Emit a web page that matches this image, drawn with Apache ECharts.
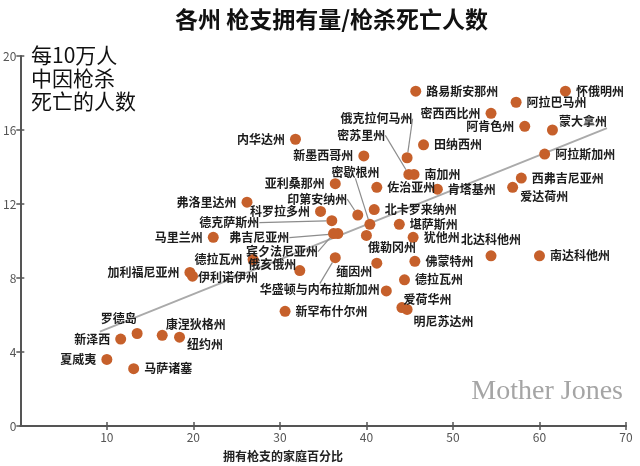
<!DOCTYPE html>
<html><head><meta charset="utf-8">
<script src="https://cdn.jsdelivr.net/npm/echarts@6/dist/echarts.min.js"></script>
<style>html,body{margin:0;padding:0;background:#fff}#c{width:640px;height:466px}</style>
</head><body><div id="c"></div>
<script>
// ---- data ----
const codes = ['WY','LA','AL','MS','AR','MT','AK','TN','OK','MO','SC','KY','WV','ID','GA','NC','MI','NM','NV','AZ','FL','IN','CO','TX','VA','PA','MD','CA','IL','DE','OH','WA','NE','ME','OR','KS','UT','VT','WI','IA','MN','NH','ND','SD','RI','NJ','CT','NY','HI','MA'];
const states = ['怀俄明州','路易斯安那州','阿拉巴马州','密西西比州','阿肯色州','蒙大拿州','阿拉斯加州','田纳西州','俄克拉何马州','密苏里州','南加州','肯塔基州','西弗吉尼亚州','爱达荷州','佐治亚州','北卡罗来纳州','密歇根州','新墨西哥州','内华达州','亚利桑那州','弗洛里达州','印第安纳州','科罗拉多州','德克萨斯州','弗吉尼亚州','宾夕法尼亚州','马里兰州','加利福尼亚州','伊利诺伊州','德拉瓦州','俄亥俄州','华盛顿与内布拉斯加州','内布拉斯加州','缅因州','俄勒冈州','堪萨斯州','犹他州','佛蒙特州','德拉瓦州','爱荷华州','明尼苏达州','新罕布什尔州','北达科他州','南达科他州','罗德岛','新泽西','康涅狄格州','纽约州','夏威夷','马萨诸塞'];
const gunOwnership = [63.0,45.7,57.3,54.4,58.3,61.5,60.6,46.6,44.7,44.9,45.5,48.2,57.9,56.9,41.2,40.9,40.4,39.7,31.8,36.4,26.2,39.0,34.7,36.0,36.7,36.2,22.3,19.6,19.9,26.9,32.3,36.4,42.3,41.2,40.0,43.8,45.4,45.6,44.4,44.1,44.7,30.6,54.4,60.0,13.5,11.6,16.4,18.4,10.0,13.1];
const gunDeaths = [18.1,18.1,17.5,16.9,16.2,16.0,14.7,15.2,14.5,13.6,13.6,12.8,13.4,12.9,12.9,11.7,10.9,14.6,15.5,13.1,12.1,11.4,11.6,11.1,10.4,10.4,10.2,8.3,8.1,9.0,8.4,9.1,7.3,8.8,10.3,10.9,10.2,8.9,7.9,6.4,6.3,6.2,9.2,9.2,5.0,4.7,4.9,4.8,3.6,3.1];
const trendX = [9.2, 67.8];
const trendY = [5.1, 16.1];
const xTickValues = [0,10,20,30,40,50,60,70];
const yTickValues = [0,4,8,12,16,20];

// ---- label placement (style only) ----
const layout = {
  MS:{pos:'left'}, AR:{pos:'left'}, MT:{dx:-4,dy:-9},
  OK:{pos:'left',dx:16,dy:-39,line:true},
  MO:{pos:'left',dx:-13,dy:-39,line:true},
  ID:{dx:-3,dy:9},
  MI:{pos:'left',dx:20,dy:-52,line:true},
  NM:{pos:'left'}, NV:{pos:'left'}, AZ:{pos:'left'}, FL:{pos:'left'},
  IN:{pos:'left',dx:0,dy:-16,line:true},
  CO:{pos:'left'},
  TX:{pos:'left',dx:-62,dy:2,line:true},
  VA:{pos:'left',dx:-38,dy:4,line:true},
  PA:{pos:'left',dx:-5,dy:18,line:true},
  MD:{pos:'left'}, CA:{pos:'left'},
  IL:{dx:-5,dy:1},
  DE:{pos:'left'},
  OH:{pos:'left',dx:7,dy:-6},
  WA:{pos:'left',dx:55,dy:32,line:true},
  NE:{show:false},
  ME:{pos:'left',dx:6,dy:8},
  OR:{dx:-9,dy:12},
  IA:{dx:-9,dy:-8},
  MN:{dx:-4,dy:12},
  ND:{pos:'top'},
  RI:{pos:'left',dx:10,dy:-15},
  NJ:{pos:'left'},
  CT:{dx:-7,dy:-11},
  NY:{dx:-3,dy:7},
  HI:{pos:'left'}
};

const FONT = '"Noto Sans CJK SC","Noto Sans",sans-serif';
const scatterData = states.map((s, i) => {
  const L = layout[codes[i]] || {};
  return {
    name: s,
    value: [gunOwnership[i], gunDeaths[i]],
    label: { show: L.show !== false, position: L.pos || 'right' },
    labelLine: { show: !!L.line }
  };
});

const chart = echarts.init(document.getElementById('c'), null, {renderer: 'canvas'});
const axisColor = '#555';
chart.setOption({
  animation: false,
  backgroundColor: '#fff',
  title: {
    text: '各州 枪支拥有量/枪杀死亡人数',
    left: 175, top: 8, padding: 0,
    textStyle: { fontFamily: FONT, fontSize: 23, fontWeight: 'bold', color: '#111' }
  },
  graphic: [
    { type: 'text', left: 31, top: 44, z: 10,
      style: { text: '每10万人\n中因枪杀\n死亡的人数', font: '21px ' + FONT, lineHeight: 23, fill: '#111' } },
    { type: 'text', left: 223, top: 450,
      style: { text: '拥有枪支的家庭百分比', font: 'bold 12px ' + FONT, fill: '#222' } },
    { type: 'text', right: 17, top: 378,
      style: { text: 'Mother Jones', font: '28px "Liberation Serif","DejaVu Serif",serif', fill: '#a5a5a5' } }
  ],
  grid: { left: 20, right: 14, top: 56, bottom: 40 },
  xAxis: [
    { type: 'value', min: xTickValues[0], max: xTickValues[xTickValues.length-1], interval: 10, position: 'bottom',
      splitLine: { show: false },
      axisLine: { lineStyle: { color: axisColor, width: 2 } },
      axisTick: { show: true, length: 4, lineStyle: { color: axisColor, width: 1.5 } },
      axisLabel: { showMinLabel: false, color: '#555', fontSize: 12, fontFamily: FONT, margin: 5 } },
    { type: 'value', min: xTickValues[0], max: xTickValues[xTickValues.length-1], interval: 10, position: 'bottom',
      splitLine: { show: false }, axisLine: { show: false },
      axisTick: { show: true, inside: true, length: 4, lineStyle: { color: axisColor, width: 1.5 } },
      axisLabel: { show: false } }
  ],
  yAxis: [
    { type: 'value', min: yTickValues[0], max: yTickValues[yTickValues.length-1], interval: 4, position: 'left',
      splitLine: { show: false },
      axisLine: { show: true, lineStyle: { color: axisColor, width: 2 } },
      axisTick: { show: true, length: 4, lineStyle: { color: axisColor, width: 1.5 } },
      axisLabel: { color: '#555', fontSize: 12, fontFamily: FONT, margin: 4 } },
    { type: 'value', min: yTickValues[0], max: yTickValues[yTickValues.length-1], interval: 4, position: 'left',
      splitLine: { show: false }, axisLine: { show: false },
      axisTick: { show: true, inside: true, length: 4, lineStyle: { color: axisColor, width: 1.5 } },
      axisLabel: { show: false } }
  ],
  series: [
    { type: 'line', silent: true, symbol: 'none', z: 1,
      data: trendX.map((x, i) => [x, trendY[i]]),
      lineStyle: { color: '#aaa', width: 2 } },
    { type: 'scatter', z: 3, symbolSize: 11,
      itemStyle: { color: '#c6602b', opacity: 1 },
      label: { show: true, formatter: '{b}', fontFamily: FONT, fontSize: 12, fontWeight: 'bold', color: '#1c1c1c', distance: 5 },
      labelLine: { lineStyle: { color: '#8c8c8c', width: 1.2 }, length2: 0 },
      labelLayout: function (p) {
        const L = layout[codes[p.dataIndex]] || {};
        return { dx: L.dx || 0, dy: L.dy || 0 };
      },
      data: scatterData }
  ]
});
</script>
</body></html>
